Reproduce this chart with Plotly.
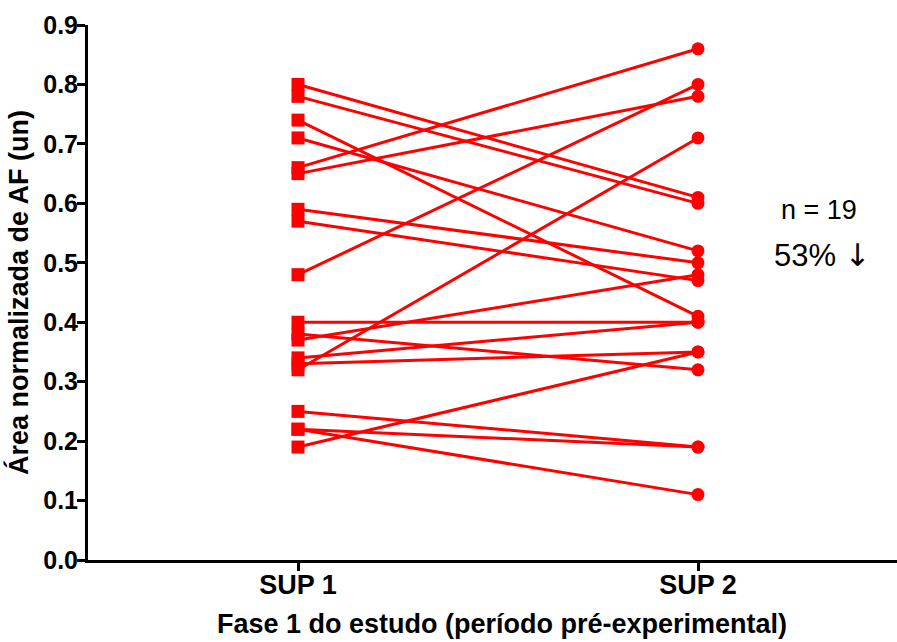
import plotly.graph_objects as go

# Paired measurements per subject: SUP 1 -> SUP 2
sup1 = [0.80, 0.78, 0.74, 0.71, 0.66, 0.65, 0.59, 0.57, 0.48, 0.40,
        0.38, 0.37, 0.34, 0.33, 0.32, 0.25, 0.22, 0.22, 0.19]
sup2 = [0.61, 0.60, 0.41, 0.52, 0.86, 0.78, 0.50, 0.47, 0.80, 0.40,
        0.32, 0.48, 0.40, 0.35, 0.71, 0.19, 0.19, 0.11, 0.35]
categories = ["SUP 1", "SUP 2"]
y_ticks = [0.0, 0.1, 0.2, 0.3, 0.4, 0.5, 0.6, 0.7, 0.8, 0.9]

RED = "#FF0000"
FONT = "Liberation Sans, Arial, sans-serif"

# plot area in pixels
L, R, T, B = 88, 0, 25, 82
W, H = 897, 642
plot_w = W - L - R
plot_h = H - T - B

fig = go.Figure()

# connecting line for every subject
for a, b in zip(sup1, sup2):
    fig.add_trace(go.Scatter(x=[0, 1], y=[a, b], mode="lines",
                             line=dict(color=RED, width=3),
                             hoverinfo="skip", showlegend=False))

# markers: squares for SUP 1, circles for SUP 2
fig.add_trace(go.Scatter(x=[0] * len(sup1), y=sup1, mode="markers",
                         marker=dict(symbol="square", size=13, color=RED),
                         showlegend=False))
fig.add_trace(go.Scatter(x=[1] * len(sup2), y=sup2, mode="markers",
                         marker=dict(symbol="circle", size=13, color=RED),
                         showlegend=False))


def px(x, y):
    """Pixel position -> paper coordinates."""
    return (x - L) / plot_w, 1 - (y - T) / plot_h


nx, ny = px(819, 210)
px53, py53 = px(822, 255)
tx, ty = px(502, 624)

fig.update_layout(
    width=W, height=H,
    margin=dict(l=L, r=R, t=T, b=B),
    plot_bgcolor="white", paper_bgcolor="white",
    font=dict(family=FONT, color="black"),
    xaxis=dict(
        range=[-0.525, 1.4975],
        tickvals=[0, 1], ticktext=categories,
        showgrid=False, zeroline=False,
        showline=True, linecolor="black", linewidth=3,
        ticks="outside", ticklen=8, tickwidth=3, tickcolor="black",
        ticklabelstandoff=-9,
        tickfont=dict(size=27, family=FONT, weight="bold"),
    ),
    yaxis=dict(
        range=[0, 0.9],
        tickvals=y_ticks, tickformat=".1f",
        showgrid=False, zeroline=False,
        showline=True, linecolor="black", linewidth=3,
        ticks="outside", ticklen=8, tickwidth=3, tickcolor="black",
        ticklabelstandoff=-6,
        tickfont=dict(size=25, family=FONT, weight="bold"),
        title=dict(text="<b>Área normalizada de AF (un)</b>",
                   font=dict(size=27, family=FONT), standoff=7),
    ),
    annotations=[
        dict(x=tx, y=ty, xref="paper", yref="paper",
             text="<b>Fase 1 do estudo (período pré-experimental)</b>",
             xanchor="center", yanchor="middle",
             showarrow=False, font=dict(size=27, family=FONT)),
        dict(x=nx, y=ny, xref="paper", yref="paper", text="n = 19",
             xanchor="center", yanchor="middle",
             showarrow=False, font=dict(size=27, family=FONT)),
        dict(x=px53, y=py53, xref="paper", yref="paper",
             text='53% <span style="font-family:DejaVu Sans">↓</span>',
             xanchor="center", yanchor="middle",
             showarrow=False, font=dict(size=31, family=FONT)),
    ],
)

fig.write_html("out.html")
